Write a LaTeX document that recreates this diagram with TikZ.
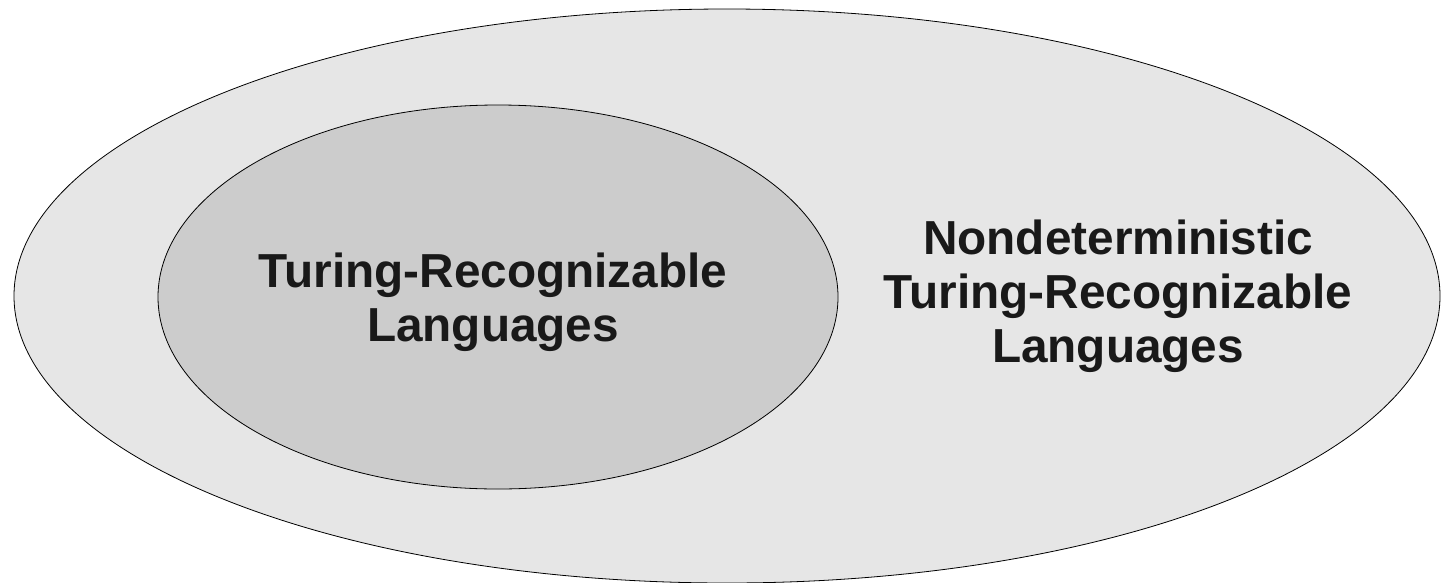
\documentclass[tikz,border=0pt]{standalone}
\usepackage{fontspec}
\setmainfont{Liberation Sans}
\definecolor{outerfill}{HTML}{E6E6E6}
\definecolor{innerfill}{HTML}{CCCCCC}
\tikzset{
  setlabel/.style={font=\bfseries\fontsize{35.8}{40.5}\selectfont, align=center, text=black!90},
  setline/.style={line width=0.6pt, draw=black}
}
\begin{document}
\begin{tikzpicture}[x=0.75pt,y=-0.75pt]
\useasboundingbox (0,0) rectangle (1441,582);
\clip (0,0) rectangle (1441,582);
% outer and inner sets
\draw[setline, fill=outerfill] (727,296) ellipse [x radius=713, y radius=287];
\draw[setline, fill=innerfill] (498,297) ellipse [x radius=340, y radius=192];
\node[setlabel] (tr) at (493,302) {Turing-Recognizable\\Languages};
\node[setlabel] (ntr) at (1118,296) {Nondeterministic\\Turing-Recognizable\\Languages};
\end{tikzpicture}
\end{document}
